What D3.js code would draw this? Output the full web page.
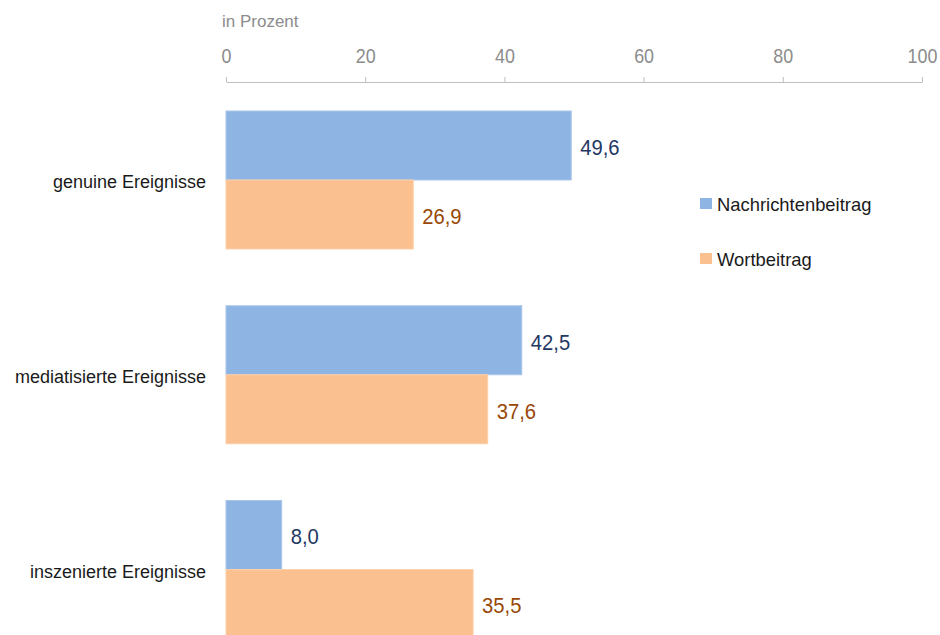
<!DOCTYPE html>
<html>
<head>
<meta charset="utf-8">
<script src="https://cdn.jsdelivr.net/npm/d3@7"></script>
<style>
  body { margin: 0; background: #fff; }
  svg { display: block; font-family: "Liberation Sans", Arial, sans-serif; }
</style>
</head>
<body>
<div id="chart"></div>
<script>
// data
var categories = ["genuine Ereignisse", "mediatisierte Ereignisse", "inszenierte Ereignisse"];
var seriesNames = ["Nachrichtenbeitrag", "Wortbeitrag"];
var nachrichtenbeitrag = [49.6, 42.5, 8.0];
var wortbeitrag = [26.9, 37.6, 35.5];
var tickValues = [0, 20, 40, 60, 80, 100];

var barColors = ["#8EB4E3", "#FAC090"];
var labelColors = ["#1F3864", "#984807"];

var width = 940, height = 635;
var squeeze = 0.92; // the original uses a slightly condensed face

var svg = d3.select("#chart").append("svg")
  .attr("width", width)
  .attr("height", height);

// scales
var x = d3.scaleLinear()
  .domain([0, 100])
  .range([226, 922]);

var y0 = d3.scaleBand()
  .domain(categories)
  .range([111, 638.5])
  .paddingInner(0.2914)
  .paddingOuter(0);

var y1 = d3.scaleBand()
  .domain(seriesNames)
  .range([0, y0.bandwidth()]);

// axis on top
var xAxis = d3.axisTop(x)
  .tickValues(tickValues)
  .tickSize(5)
  .tickSizeOuter(0)
  .tickPadding(14)
  .tickFormat(d3.format("d"));

var axisG = svg.append("g")
  .attr("transform", "translate(0,82)")
  .call(xAxis);

axisG.select(".domain").attr("stroke", "#BFBFBF");
axisG.selectAll(".tick line").attr("stroke", "#BFBFBF");
axisG.selectAll(".tick text")
  .attr("fill", "#8C8C8C")
  .attr("font-size", "19.5px")
  .attr("font-family", "\"Liberation Sans\", Arial, sans-serif")
  .attr("transform", "scale(" + squeeze + ",1)");

svg.append("text")
  .attr("x", 222)
  .attr("y", 27)
  .attr("fill", "#8C8C8C")
  .attr("font-size", "17px")
  .text("in Prozent");

// rows of data
var rows = categories.map(function(c, i) {
  return { category: c, values: [nachrichtenbeitrag[i], wortbeitrag[i]] };
});

var groups = svg.selectAll(".group")
  .data(rows)
  .enter().append("g")
  .attr("class", "group")
  .attr("transform", function(d) { return "translate(0," + y0(d.category) + ")"; });

var cells = function(d) {
  return d.values.map(function(v, j) { return { series: seriesNames[j], value: v, idx: j }; });
};

groups.selectAll("rect")
  .data(cells)
  .enter().append("rect")
  .attr("x", x(0))
  .attr("y", function(d) { return y1(d.series); })
  .attr("width", function(d) { return x(d.value) - x(0); })
  .attr("height", y1.bandwidth())
  .attr("fill", function(d) { return barColors[d.idx]; })
  .attr("stroke", function(d) { return d.idx === 0 ? "#A9C6EA" : "#FCD0AA"; })
  .attr("stroke-width", 1);

var fmt = function(v) { return d3.format(".1f")(v).replace(".", ","); };

groups.selectAll(".val")
  .data(cells)
  .enter().append("text")
  .attr("class", "val")
  .attr("transform", function(d) {
    return "translate(" + (x(d.value) + 9) + "," + (y1(d.series) + y1.bandwidth() / 2) + ") scale(" + squeeze + ",1)";
  })
  .attr("dy", "0.42em")
  .attr("font-size", "22px")
  .attr("fill", function(d) { return labelColors[d.idx]; })
  .text(function(d) { return fmt(d.value); });

// category labels
svg.selectAll(".cat")
  .data(categories)
  .enter().append("text")
  .attr("class", "cat")
  .attr("x", 206)
  .attr("y", function(d) { return y0(d) + y0.bandwidth() / 2; })
  .attr("dy", "0.45em")
  .attr("text-anchor", "end")
  .attr("font-size", "18px")
  .attr("fill", "#1a1a1a")
  .text(function(d) { return d; });

// legend
var legend = svg.selectAll(".legend")
  .data(seriesNames)
  .enter().append("g")
  .attr("class", "legend")
  .attr("transform", function(d, i) { return "translate(700," + (204 + i * 55) + ")"; });

legend.append("rect")
  .attr("x", 0)
  .attr("y", -6)
  .attr("width", 12)
  .attr("height", 11)
  .attr("fill", function(d, i) { return barColors[i]; });

legend.append("text")
  .attr("x", 17)
  .attr("y", 1)
  .attr("dy", "0.35em")
  .attr("font-size", "18.4px")
  .attr("fill", "#1a1a1a")
  .text(function(d) { return d; });
</script>
</body>
</html>
